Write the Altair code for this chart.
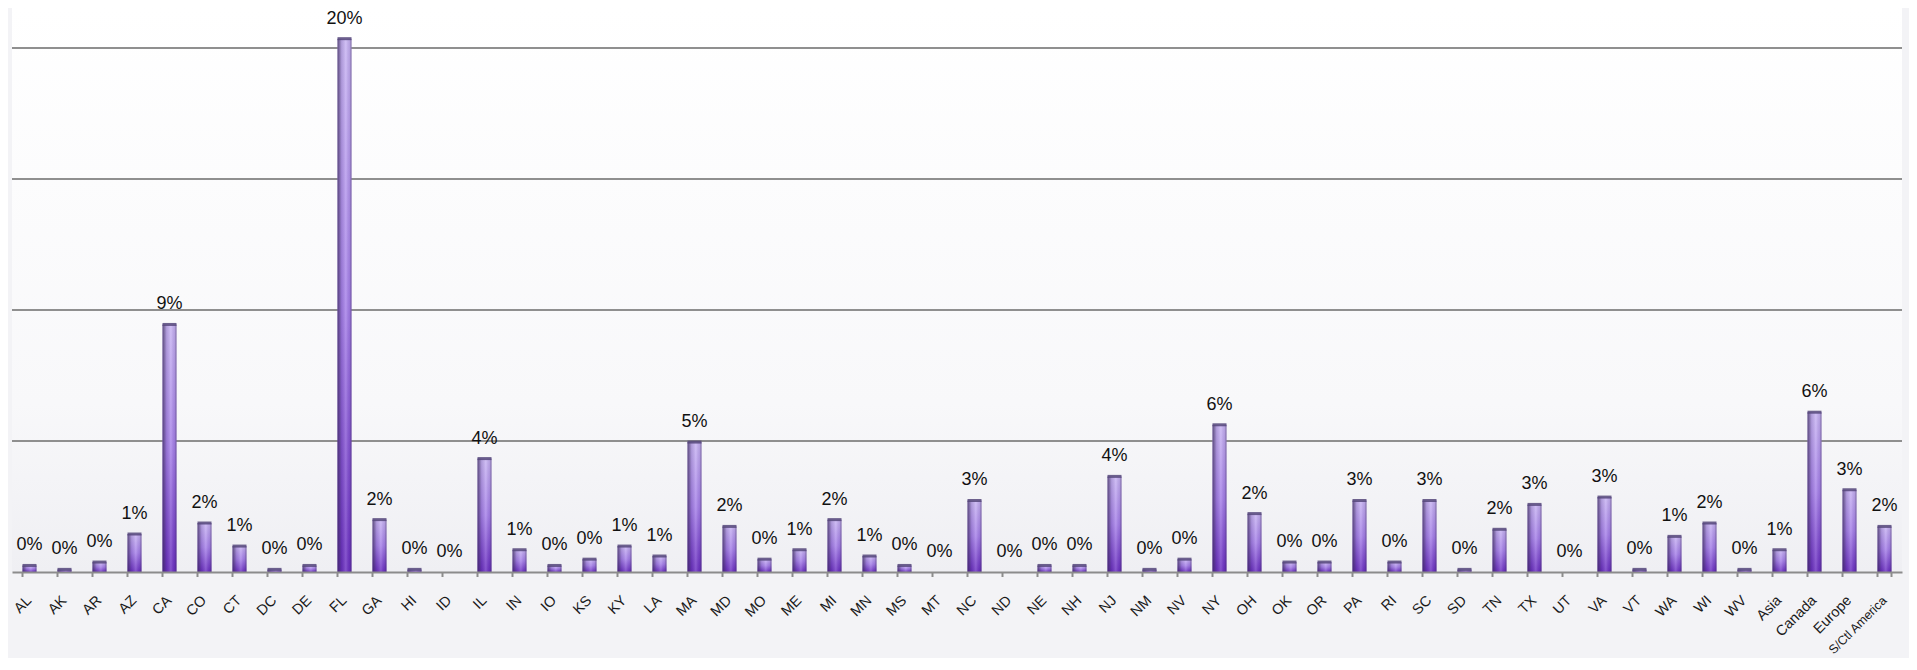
import altair as alt
import pandas as pd

categories = ["AL", "AK", "AR", "AZ", "CA", "CO", "CT", "DC", "DE", "FL", "GA", "HI", "ID",
              "IL", "IN", "IO", "KS", "KY", "LA", "MA", "MD", "MO", "ME", "MI", "MN", "MS",
              "MT", "NC", "ND", "NE", "NH", "NJ", "NM", "NV", "NY", "OH", "OK", "OR", "PA",
              "RI", "SC", "SD", "TN", "TX", "UT", "VA", "VT", "WA", "WI", "WV", "Asia",
              "Canada", "Europe", "S/Ctl America"]
values = [0.25, 0.1, 0.38, 1.45, 9.45, 1.87, 0.99, 0.1, 0.25, 20.36, 2.0, 0.1, 0.0,
          4.33, 0.85, 0.25, 0.49, 0.99, 0.61, 4.96, 1.74, 0.49, 0.85, 2.0, 0.61, 0.25,
          0.0, 2.73, 0.0, 0.25, 0.25, 3.65, 0.1, 0.49, 5.62, 2.23, 0.38, 0.38, 2.73,
          0.38, 2.73, 0.1, 1.63, 2.58, 0.0, 2.86, 0.1, 1.36, 1.87, 0.1, 0.85,
          6.1, 3.14, 1.74]
grid_values = [5, 10, 15, 20]

df = pd.DataFrame({"cat": categories, "v": values})
grid_df = pd.DataFrame({"g": grid_values})
bg_df = pd.DataFrame({"a": [0]})

W, H = 1890, 564
YMAX = 21.53
FONT = "Liberation Sans"

xscale = alt.Scale(paddingInner=0.6, paddingOuter=0.3)
yscale = alt.Scale(domain=[0, YMAX], nice=False, zero=True)

x_axis = alt.Axis(title=None, labelAngle=315, labelAlign="right", labelBaseline="middle",
                  labelPadding=26,
                  labelFontSize={"condition": {"test": "datum.value == 'S/Ctl America'",
                                               "value": 12.5},
                                 "value": 14.5},
                  labelFont=FONT, labelColor="#1a1a1a",
                  ticks=False, domainColor="#8c8c8c", domainWidth=2, grid=False,
                  labelLimit=0, zindex=1)

X = alt.X("cat:N", sort=categories, scale=xscale, axis=x_axis)
Y = alt.Y("v:Q", scale=yscale, axis=None)

background = alt.Chart(bg_df).mark_rect(
    color=alt.Gradient(gradient="linear",
                       stops=[alt.GradientStop(offset=0, color="#ffffff"),
                              alt.GradientStop(offset=0.7, color="#f8f8fa"),
                              alt.GradientStop(offset=1, color="#efeff3")],
                       x1=0, x2=0, y1=0, y2=1)
).encode(x=alt.value(0), x2=alt.value(W), y=alt.value(0), y2=alt.value(H))

grid = alt.Chart(grid_df).mark_rule(color="#8f8f8f", strokeWidth=2).encode(
    y=alt.Y("g:Q", scale=yscale, axis=None),
    x=alt.value(0), x2=alt.value(W))

bars = alt.Chart(df).mark_bar(
    color=alt.Gradient(gradient="linear",
                       stops=[alt.GradientStop(offset=0, color="#c8b4f3"),
                              alt.GradientStop(offset=0.5, color="#a680ea"),
                              alt.GradientStop(offset=1, color="#6a2dc2")],
                       x1=0, x2=0, y1=0, y2=1)
).encode(x=X, y=Y)

shade = alt.Chart(df).mark_bar(
    color=alt.Gradient(gradient="linear",
                       stops=[alt.GradientStop(offset=0, color="rgba(55,40,85,0.75)"),
                              alt.GradientStop(offset=0.3, color="rgba(55,40,85,0.15)"),
                              alt.GradientStop(offset=0.6, color="rgba(255,255,255,0.18)"),
                              alt.GradientStop(offset=0.85, color="rgba(55,40,85,0.1)"),
                              alt.GradientStop(offset=1, color="rgba(55,40,85,0.5)")],
                       x1=0, x2=1, y1=0, y2=0)
).encode(x=X, y=Y)

caps = alt.Chart(df).transform_filter("datum.v > 0").mark_tick(
    thickness=3, size=14, color="#55467a", opacity=0.85
).encode(x=X, y=Y)

labels = alt.Chart(df).transform_calculate(
    lbl="format(datum.v, '.0f') + '%'"
).mark_text(dy=-15, baseline="alphabetic", fontSize=18, font=FONT, color="#111111").encode(
    x=X, y=Y, text="lbl:N")

ticks = alt.Chart(df).mark_rule(color="#8c8c8c", strokeWidth=2).encode(
    x=alt.X("cat:N", sort=categories, scale=xscale, bandPosition=0, axis=x_axis),
    y=alt.value(H), y2=alt.value(H + 5))

last_tick = alt.Chart(df).transform_filter("datum.cat == 'S/Ctl America'").mark_rule(
    color="#8c8c8c", strokeWidth=2).encode(
    x=alt.X("cat:N", sort=categories, scale=xscale, bandPosition=1, axis=x_axis),
    y=alt.value(H), y2=alt.value(H + 5))

chart = alt.layer(background, grid, bars, shade, caps, labels, ticks, last_tick).properties(
    width=W, height=H,
    autosize=alt.AutoSizeParams(type="none"),
    padding={"left": 4, "top": 0, "right": 7, "bottom": 86},
    background="#f3f3f6",
).configure_view(stroke=None)

chart.save("out.html", embed_options={"renderer": "svg", "actions": False})
